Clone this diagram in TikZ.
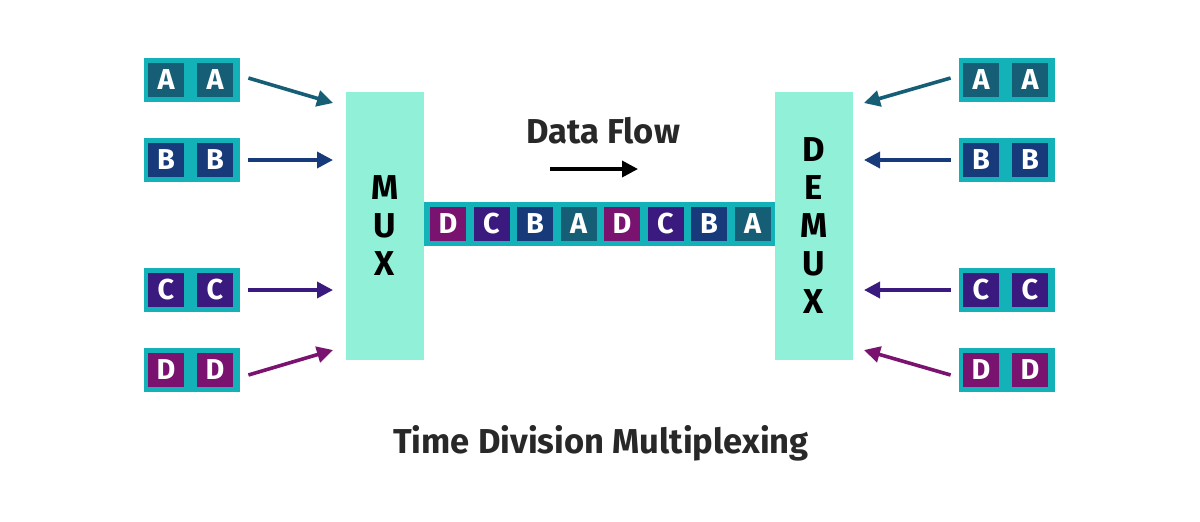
\documentclass[tikz,border=0pt]{standalone}
\usepackage{fontspec}
\setmainfont{Fira Sans}
\usetikzlibrary{positioning,arrows.meta}
\definecolor{rim}{RGB}{18,178,184}
\definecolor{cA}{RGB}{22,94,118}
\definecolor{cB}{RGB}{22,58,122}
\definecolor{cC}{RGB}{58,26,126}
\definecolor{cD}{RGB}{122,18,112}
\definecolor{muxfill}{RGB}{144,240,216}
\definecolor{title}{RGB}{40,40,40}
\tikzset{slot/.style={rectangle,draw=none,minimum width=18pt,minimum height=17pt,inner sep=0pt,
            text=white,font=\bfseries\Large},
         holder/.style={rectangle,fill=rim,draw=none,minimum width=48pt,minimum height=22pt,inner sep=0pt},
         box/.style={rectangle,fill=muxfill,draw=none,minimum width=39pt,minimum height=134pt,inner sep=0pt,
            font=\bfseries\LARGE,align=center},
         feed/.style={-{Triangle[length=8pt,width=8pt]},line width=1.8pt}
}
\begin{document}
\begin{tikzpicture}[x=0.5pt,y=-0.5pt]
\useasboundingbox (0,0) rectangle (1200,521);
\node[box] (mux) at (385,226) {M\\[-3pt]U\\[-3pt]X};
\node[box] (demux) at (814,226) {D\\[-3pt]E\\[-3pt]M\\[-3pt]U\\[-3pt]X};
\node[holder,minimum width=175.5pt] (chan) at (599.5,224) {};
% channel slots
\foreach \l [count=\i] in {D,C,B,A,D,C,B,A}
  \node[slot,fill=c\l] (s\i) at ({448+(\i-1)*43.5},224) {\l};
% input and output groups
\foreach \l/\y in {A/80,B/160,C/290,D/370}{
  \node[holder] (in\l) at (192,\y) {};
  \node[slot,fill=c\l] at (166,\y) {\l};
  \node[slot,fill=c\l] at (215,\y) {\l};
  \node[holder] (out\l) at (1007,\y) {};
  \node[slot,fill=c\l] at (981,\y) {\l};
  \node[slot,fill=c\l] at (1030,\y) {\l};
}
\coordinate (mA) at (333,103); \coordinate (mB) at (333,160);
\coordinate (mC) at (333,290); \coordinate (mD) at (333,350);
\coordinate (dA) at (864,103); \coordinate (dB) at (864,160);
\coordinate (dC) at (864,290); \coordinate (dD) at (864,350);
\foreach \l/\y in {A/78,B/160,C/290,D/375}{
  \draw[feed,draw=c\l,fill=c\l] ([xshift=4pt]in\l.east |- 0,\y) -- (m\l);
  \draw[feed,draw=c\l,fill=c\l] ([xshift=-4pt]out\l.west |- 0,\y) -- (d\l);
}
\node[font=\bfseries\LARGE,text=title] (flow) at (603,131) {Data Flow};
\coordinate (f1) at (550,169); \coordinate (f2) at (638,169);
\draw[feed] (f1) -- (f2);
\node[font=\bfseries\LARGE,text=title] (caption) at (601,443) {Time Division Multiplexing};
\end{tikzpicture}
\end{document}
